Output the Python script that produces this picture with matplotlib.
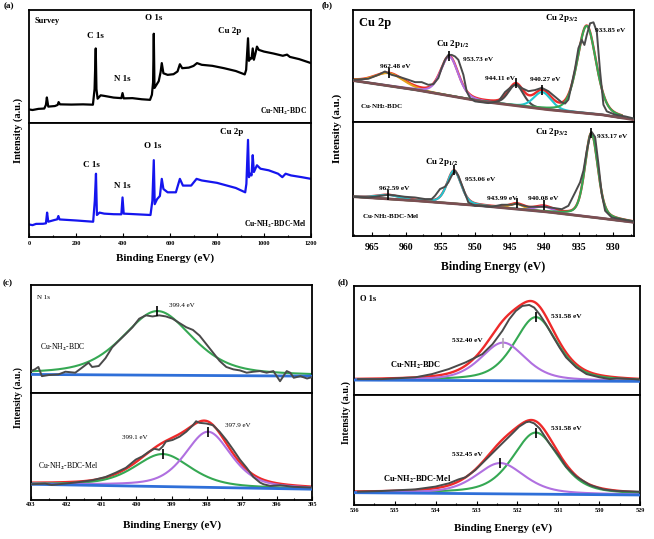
import numpy as np
import matplotlib.pyplot as plt
from matplotlib.ticker import MultipleLocator

plt.rcParams['font.family'] = 'Liberation Serif'
plt.rcParams['font.weight'] = 'bold'
plt.rcParams['mathtext.fontset'] = 'stix'
plt.rcParams['mathtext.default'] = 'bf'

W, H = 654, 539

# ---------------- (a) survey ----------------
survey_be_1 = [0, 15, 40, 65, 72, 76, 82, 110, 122, 126, 132, 180, 230, 272, 279, 284, 287, 292, 305, 320,
               360, 393, 398, 403, 440, 480, 515, 523, 528, 531, 534, 540, 552, 560, 565, 572, 590, 615, 632, 642,
               652, 680, 700, 715, 735, 780, 830, 880, 918, 924, 932, 936, 942, 947, 952, 957, 963, 970, 978, 1000,
               1040, 1080, 1098, 1110, 1150, 1200]
survey_int_1 = [12, 11.5, 12.5, 12.8, 16, 22.6, 14.5, 15, 16, 18.5, 16.5, 16.3, 16.5, 16.2, 30, 66, 30, 21.5, 24.5, 24,
                22.5, 22, 26.5, 21.8, 22, 21, 20.5, 25, 36, 79, 31, 33, 37, 45, 53, 44, 42.6, 43.2, 45.6, 52,
                48.5, 49, 50.5, 53, 51.5, 50.6, 48.5, 46, 43, 47, 75, 55, 57.4, 57, 66, 56, 61, 67.6, 64.7, 63.2,
                61.5, 59.5, 60.5, 58.5, 56.5, 53]
survey_be_2 = [0, 15, 30, 60, 72, 77, 82, 110, 120, 125, 130, 200, 273, 280, 285, 289, 300, 320, 360, 393,
               398, 403, 450, 517, 525, 531, 535, 545, 557, 565, 572, 590, 625, 642, 655, 690, 713, 735, 800, 880,
               920, 925, 932, 936, 942, 947, 952, 957, 970, 985, 1020, 1060, 1078, 1092, 1115, 1160, 1200]
survey_int_2 = [11, 10.4, 11.5, 11.6, 12, 21.4, 13.4, 15, 15.5, 18.4, 15.4, 14.5, 13.4, 31.8, 55.5, 19.3, 21.4, 20.5, 20, 19.9,
                34.7, 20.5, 20, 19.3, 31.8, 67.4, 28.8, 33.2, 36, 51, 42.1, 39.2, 39.2, 51, 45.1, 45.1, 51, 49.6, 47.5, 43,
                39.2, 46.6, 85.2, 52.5, 55.5, 54, 71.8, 57, 62.9, 59.9, 58.5, 55.5, 52.5, 55.5, 54, 52.5, 51]

# ---------------- (b) Cu 2p ----------------
cu_be_1 = [967.66, 965.48, 964.03, 963.07, 962.10, 961.14, 959.69, 958.72, 957.75, 956.79, 956.06, 955.34, 954.86,
           954.37, 953.89, 953.41, 952.92, 952.44, 951.71, 951.23, 950.75, 950.02, 948.09, 946.64, 945.68, 944.71,
           943.99, 943.26, 942.29, 941.33, 940.36, 939.40, 938.43, 937.46, 936.98, 936.50, 935.53, 935.05, 934.57,
           934.18, 933.84, 933.36, 932.87, 932.39, 931.91, 931.43, 930.94, 929.73, 928.29, 926.93]
cu_int_1 = [37.7, 38.6, 42.1, 45.1, 42.1, 40.6, 37.7, 35.6, 35.6, 33.2, 33.8, 39.2, 48.1,
            55.5, 59.9, 59.9, 58.5, 55.5, 42.1, 27.3, 21.4, 18.4, 16.9, 18.4, 26.7, 31.8,
            33.8, 30.3, 27.5, 28.5, 30.5, 27.5, 22.5, 17.5, 16.5, 20, 48.1, 65.9, 73.3,
            68.8, 77.7, 88.1, 89, 80.7, 45.1, 15.4, 9.5, 6.5, 5, 3]
cu_bg_be = [967.7, 958.7, 949.1, 939.4, 931.7, 927.0]
cu_bg_1 = [37, 28.8, 18.4, 11, 6.5, 2]
cu_pk_center_1 = [962.48, 953.73, 944.11, 940.27, 933.85]
cu_pk_height_1 = [11.3, 35, 18.6, 15, 78]
cu_pk_fwhm_1 = [5.0, 3.0, 2.6, 3.0, 3.2]

cu_be_2 = [967.66, 965.48, 963.55, 962.58, 961.62, 960.17, 958.72, 957.27, 956.30, 955.82, 955.10, 954.37, 953.89,
           953.41, 952.92, 952.44, 951.71, 950.99, 950.02, 949.06, 947.61, 946.16, 944.71, 943.99, 943.26, 942.29,
           940.85, 939.88, 938.43, 937.46, 936.50, 935.53, 934.81, 934.32, 933.84, 933.36, 933.12, 932.63, 932.15,
           931.67, 931.18, 930.22, 928.77, 926.93]
cu_int_2 = [34.4, 33.8, 35.3, 36.2, 35.6, 34.4, 33.8, 32.4, 32.4, 35.3, 41.2, 43.2, 47.1,
            52.9, 57.4, 52.9, 41.2, 29.4, 26.5, 26.5, 25.6, 27.4, 27.4, 28.5, 27, 25.6,
            25.6, 25.6, 24.4, 23.5, 26.5, 38.2, 47.1, 57.4, 75, 88.2, 91.2, 86.8, 63.2,
            36.8, 22.1, 16.2, 14.7, 12.6]
cu_bg_2 = [34.5, 31, 26.5, 21, 15.5, 12]
cu_pk_center_2 = [962.59, 953.06, 943.99, 940.08, 933.17]
cu_pk_height_2 = [3.5, 29, 4.5, 4.5, 73.8]
cu_pk_fwhm_2 = [4.0, 2.4, 2.5, 3.0, 2.2]

# ---------------- (c) N 1s ----------------
n_be_1 = [403.0, 402.89, 402.79, 402.69, 402.50, 402.22, 402.02, 401.74, 401.55, 401.36, 401.26, 401.07, 400.88,
          400.69, 400.50, 400.30, 400.11, 399.92, 399.73, 399.54, 399.35, 399.16, 398.97, 398.77, 398.58, 398.39,
          398.20, 398.01, 397.82, 397.63, 397.44, 397.24, 397.05, 396.86, 396.67, 396.48, 396.29, 396.10, 395.91,
          395.72, 395.62, 395.52, 395.33, 395.14, 395.0]
n_int_1 = [20.3, 21.9, 24.1, 15.6, 16.6, 17.2, 19.7, 18.8, 23.4, 28.1, 24.1, 25, 32.2,
           42.2, 48.4, 54.7, 60.9, 68.8, 71.9, 70.9, 71.9, 70.9, 68.8, 64.7, 60.9, 58.4,
           53.1, 45.3, 37.5, 29.7, 24.1, 21.9, 20.9, 18.8, 19.7, 20.3, 18.8, 20.3, 10.9,
           20.3, 18.8, 14.1, 15.6, 13.4, 14.7]
n_bg_be = [403, 395]
n_bg_1 = [17.2, 15.6]
n_pk_center_1 = [399.4]
n_pk_height_1 = [59.4]
n_pk_fwhm_1 = [2.35]

n_be_2 = [403.0, 402.60, 402.41, 402.22, 401.74, 401.26, 400.88, 400.59, 400.30, 400.21, 400.02, 399.83, 399.63,
          399.49, 399.35, 399.25, 399.16, 398.97, 398.77, 398.58, 398.39, 398.30, 398.20, 398.01, 397.82, 397.63,
          397.44, 397.24, 397.05, 396.86, 396.67, 396.48, 396.38, 396.19, 395.91, 395.52, 395.0]
n_int_2 = [14.7, 15.3, 14.1, 14.7, 16.3, 18.4, 21.5, 25.5, 30.1, 32.5, 37.7, 40.8, 45.4,
           47.9, 46.9, 50, 54.6, 56.1, 59.2, 63.8, 69.9, 73.6, 72.1, 71.5, 69.9, 63.8,
           56.1, 46.9, 37.7, 30.1, 21.5, 16.3, 14.7, 13.2, 13.8, 12.3, 11.7]
n_bg_2 = [14.7, 10.1]
n_pk_center_2 = [399.25, 397.96]
n_pk_height_2 = [30.4, 52]
n_pk_fwhm_2 = [1.9, 1.55]

# ---------------- (d) O 1s ----------------
o_be_1 = [535.90, 535.33, 534.50, 534.09, 533.68, 533.27, 532.86, 532.61, 532.37, 532.20, 532.04, 531.88, 531.71,
          531.59, 531.46, 531.30, 531.14, 530.97, 530.81, 530.56, 530.31, 529.99, 529.74, 529.57, 529.16, 529.0]
o_int_1 = [14.6, 14.6, 16.2, 19.2, 23.8, 29.9, 37.5, 46.6, 58.8, 69.5, 77.1, 81.7, 82.6,
           80.2, 74.1, 64.9, 54.3, 43.6, 34.5, 25.3, 19.2, 16.2, 14.6, 15.2, 14.6, 14.0]
o_bg_be = [536, 529]
o_bg_1 = [13.7, 12.5]
o_pk_center_1 = [531.55, 532.35]
o_pk_height_1 = [58.5, 35]
o_pk_fwhm_1 = [1.25, 1.3]

o_be_2 = [535.90, 535.33, 534.50, 534.01, 533.68, 533.44, 533.27, 533.03, 532.70, 532.37, 532.12, 531.96, 531.79,
          531.71, 531.59, 531.46, 531.22, 530.97, 530.81, 530.56, 530.23, 529.90, 529.57, 529.0]
o_int_2 = [12.1, 12.7, 14.2, 16.7, 19.7, 23.3, 25.2, 31.8, 43.9, 56.1, 65.2, 71.2, 75.2,
           75.8, 74.2, 69.7, 56.1, 43.9, 34.8, 25.8, 18.2, 14.2, 12.7, 12.1]
o_bg_2 = [11.2, 9.1]
o_pk_center_2 = [531.55, 532.42]
o_pk_height_2 = [56, 28]
o_pk_fwhm_2 = [1.35, 1.4]

RAW = '#4a4a4a'
RED = '#ee2a2a'
GREEN = '#35a853'
PURPLE = '#b070e0'
CYAN = '#22c5cf'
ORANGE = '#e3a21c'
BROWN = '#7b4f52'
BLUE = '#2f6fd8'


def pv(x, c, h, w, eta):
    # pseudo-Voigt line shape of a fitted component
    g = np.exp(-4 * np.log(2) * ((x - c) / w) ** 2)
    lor = 1 / (1 + 4 * ((x - c) / w) ** 2)
    return h * ((1 - eta) * g + eta * lor)


def box(l, t, r, b):
    return [l / W, 1 - b / H, (r - l) / W, (b - t) / H]


def style(ax, xlim, major, minor, tsize, pad, bottom):
    ax.set_xlim(*xlim)
    ax.set_ylim(0, 100)
    ax.set_yticks([])
    for s in ax.spines.values():
        s.set_linewidth(1.3)
    ax.xaxis.set_major_locator(MultipleLocator(major))
    ax.xaxis.set_minor_locator(MultipleLocator(minor))
    ax.tick_params(axis='x', which='both', direction='in', labelsize=tsize, pad=pad, width=0.8)
    ax.tick_params(axis='x', which='major', length=3)
    ax.tick_params(axis='x', which='minor', length=1.5)
    if not bottom:
        ax.tick_params(axis='x', which='both', bottom=False, labelbottom=False)


def fit_panel(ax, be, inten, bg_be, bg, centers, heights, fwhms, colors, xr, eta, bg_color, envelope=True):
    x = np.linspace(xr[0], xr[1], 800)
    base = np.interp(x, bg_be[::-1], bg[::-1])
    comps = [pv(x, c, h, w, eta) for c, h, w in zip(centers, heights, fwhms)]
    env = base + np.sum(comps, axis=0)
    ax.plot(be, inten, color=RAW, lw=1.4, zorder=3)
    if envelope:
        ax.plot(x, env, color=RED, lw=1.7, zorder=2)
    for comp, col in zip(comps, colors):
        ax.plot(x, base + comp, color=col, lw=1.5, zorder=2.5)
    ax.plot(bg_be, bg, color=bg_color, lw=2.0, zorder=2.6)
    return x, env


def mark(ax, x, env, centers, color='black'):
    for c in centers:
        ax.plot([c], [np.interp(c, x[::-1], env[::-1])], marker='|', ms=7, mew=1.2, color=color, zorder=5)


fig = plt.figure(figsize=(W / 100, H / 100), dpi=100)

# ---- (a) ----
a1 = fig.add_axes(box(29, 10, 311, 123))
a2 = fig.add_axes(box(29, 123, 311, 237))
a1.plot(survey_be_1, survey_int_1, color='black', lw=1.6)
a2.plot(survey_be_2, survey_int_2, color='#1515ee', lw=1.6)
for ax, bottom in ((a1, False), (a2, True)):
    style(ax, (0, 1200), 200, 100, 4.5, 3, bottom)
a1.text(0.02, 0.9, 'Survey', transform=a1.transAxes, fontsize=6, va='center')
a1.text(283, 75, 'C 1s', fontsize=6.5, ha='center')
a1.text(398, 37, 'N 1s', fontsize=6.5, ha='center')
a1.text(530, 91, 'O 1s', fontsize=6.5, ha='center')
a1.text(855, 80, 'Cu 2p', fontsize=6.5, ha='center')
a1.text(0.985, 0.1, r'Cu-NH$_2$-BDC', transform=a1.transAxes, fontsize=5.5, ha='right', va='center')
a2.text(267, 61, 'C 1s', fontsize=6.5, ha='center')
a2.text(397, 43, 'N 1s', fontsize=6.5, ha='center')
a2.text(526, 78, 'O 1s', fontsize=6.5, ha='center')
a2.text(862, 90, 'Cu 2p', fontsize=6.5, ha='center')
a2.text(0.985, 0.11, r'Cu-NH$_2$-BDC-Mel', transform=a2.transAxes, fontsize=5.5, ha='right', va='center')

# ---- (b) ----
b1 = fig.add_axes(box(353, 10, 634, 122))
b2 = fig.add_axes(box(353, 122, 634, 236))
x, env = fit_panel(b1, cu_be_1, cu_int_1, cu_bg_be, cu_bg_1, cu_pk_center_1, cu_pk_height_1, cu_pk_fwhm_1,
                   [ORANGE, PURPLE, RAW, CYAN, GREEN], (967.7, 928.8), 0.3, BROWN)
mark(b1, x, env, cu_pk_center_1[:4])
x, env = fit_panel(b2, cu_be_2, cu_int_2, cu_bg_be, cu_bg_2, cu_pk_center_2, cu_pk_height_2, cu_pk_fwhm_2,
                   [CYAN, CYAN, ORANGE, PURPLE, GREEN], (967.7, 927.0), 0.35, BROWN)
mark(b2, x, env, cu_pk_center_2)
for ax, bottom in ((b1, False), (b2, True)):
    style(ax, (967.7, 927.0), 5, 2.5, 7, 5, bottom)
b1.text(0.02, 0.88, 'Cu 2p', transform=b1.transAxes, fontsize=9, va='center')
b1.text(937.5, 92.6, r'Cu 2p$_{3/2}$', fontsize=6.5, ha='center', va='center')
b1.text(932.6, 82, '933.85 eV', fontsize=5.2, va='center')
b1.text(953.2, 70, r'Cu 2p$_{1/2}$', fontsize=6.5, ha='center', va='center')
b1.text(951.7, 55.5, '953.73 eV', fontsize=5.2, va='center')
b1.text(963.8, 49.5, '962.48 eV', fontsize=5.2, va='center')
b1.text(948.6, 39, '944.11 eV', fontsize=5.2, va='center')
b1.text(942.0, 37.7, '940.27 eV', fontsize=5.2, va='center')
b1.text(966.7, 14, r'Cu-NH$_2$-BDC', fontsize=5, va='center')
b2.text(938.9, 91, r'Cu 2p$_{3/2}$', fontsize=6.5, ha='center', va='center')
b2.text(932.4, 87.4, '933.17 eV', fontsize=5.2, va='center')
b2.text(954.9, 64.7, r'Cu 2p$_{1/2}$', fontsize=6.5, ha='center', va='center')
b2.text(951.5, 50, '953.06 eV', fontsize=5.2, va='center')
b2.text(964.0, 41.8, '962.59 eV', fontsize=5.2, va='center')
b2.text(948.3, 33, '943.99 eV', fontsize=5.2, va='center')
b2.text(942.3, 33, '940.08 eV', fontsize=5.2, va='center')
b2.text(966.4, 16.8, r'Cu-NH$_2$-BDC-Mel', fontsize=5, va='center')

# ---- (c) ----
c1 = fig.add_axes(box(31, 285, 312, 393))
c2 = fig.add_axes(box(31, 393, 312, 500))
x, env = fit_panel(c1, n_be_1, n_int_1, n_bg_be, n_bg_1, n_pk_center_1, n_pk_height_1, n_pk_fwhm_1,
                   [GREEN], (403, 395), 0.5, BLUE, envelope=False)
mark(c1, x, env, n_pk_center_1)
x, env = fit_panel(c2, n_be_2, n_int_2, n_bg_be, n_bg_2, n_pk_center_2, n_pk_height_2, n_pk_fwhm_2,
                   [GREEN, PURPLE], (403, 395), 0.5, BLUE)
for cc, hh in zip(n_pk_center_2, n_pk_height_2):
    c2.plot([cc], [np.interp(cc, n_bg_be[::-1], n_bg_2[::-1]) + hh], marker='|', ms=7, mew=1.2,
            color='black', zorder=5)
for ax, bottom in ((c1, False), (c2, True)):
    style(ax, (403, 395), 1, 0.5, 4.5, 1.5, bottom)
c1.text(0.02, 0.88, 'N 1s', transform=c1.transAxes, fontsize=5, fontweight='normal', va='center')
c1.text(399.06, 81, '399.4 eV', fontsize=5, fontweight='normal', va='center')
c1.text(402.74, 42.2, r'Cu-NH$_2$-BDC', fontsize=5.5, fontweight='normal', va='center')
c2.text(400.4, 58.3, '399.1 eV', fontsize=5, fontweight='normal', va='center')
c2.text(397.48, 70, '397.9 eV', fontsize=5, fontweight='normal', va='center')
c2.text(402.79, 31.6, r'Cu-NH$_2$-BDC-Mel', fontsize=5.5, fontweight='normal', va='center')

# ---- (d) ----
d1 = fig.add_axes(box(354, 286, 640, 395))
d2 = fig.add_axes(box(354, 395, 640, 505))
fit_panel(d1, o_be_1, o_int_1, o_bg_be, o_bg_1, o_pk_center_1, o_pk_height_1, o_pk_fwhm_1,
          [GREEN, PURPLE], (536, 529), 0.5, BLUE)
mark_colors_d1 = ['black', '#b0a4b4']
for cc, hh, col in zip(o_pk_center_1, o_pk_height_1, mark_colors_d1):
    d1.plot([cc], [np.interp(cc, o_bg_be[::-1], o_bg_1[::-1]) + hh], marker='|', ms=7, mew=1.2, color=col, zorder=5)
fit_panel(d2, o_be_2, o_int_2, o_bg_be, o_bg_2, o_pk_center_2, o_pk_height_2, o_pk_fwhm_2,
          [GREEN, PURPLE], (536, 529), 0.5, BLUE)
for cc, hh in zip(o_pk_center_2, o_pk_height_2):
    d2.plot([cc], [np.interp(cc, o_bg_be[::-1], o_bg_2[::-1]) + hh], marker='|', ms=7, mew=1.2,
            color='black', zorder=5)
for ax, bottom in ((d1, False), (d2, True)):
    style(ax, (536, 529), 1, 0.5, 4.5, 2.5, bottom)
d1.text(0.02, 0.88, 'O 1s', transform=d1.transAxes, fontsize=6, va='center')
d1.text(531.18, 71.6, '531.58 eV', fontsize=5.3, va='center')
d1.text(533.6, 50.3, '532.40 eV', fontsize=5.3, va='center')
d1.text(535.12, 26.8, r'Cu-NH$_2$-BDC', fontsize=6, va='center')
d2.text(531.18, 69.7, '531.58 eV', fontsize=5.3, va='center')
d2.text(533.6, 45.5, '532.45 eV', fontsize=5.3, va='center')
d2.text(535.28, 23.3, r'Cu-NH$_2$-BDC-Mel', fontsize=6, va='center')


# ---- figure-level labels ----
def ftext(x, y, s, **kw):
    fig.text(x / W, 1 - y / H, s, ha='center', va='center', **kw)


ftext(9, 6, '(a)', fontsize=6.5)
ftext(327, 5, '(b)', fontsize=6.5)
ftext(8, 283, '(c)', fontsize=6.5)
ftext(343, 282, '(d)', fontsize=6.5)
ftext(165, 258, 'Binding Energy (eV)', fontsize=8)
ftext(493, 267, 'Binding Energy (eV)', fontsize=8.5)
ftext(172, 525, 'Binding Energy (eV)', fontsize=8)
ftext(503, 528, 'Binding Energy (eV)', fontsize=8)
ftext(18, 130, 'Intensity (a.u.)', fontsize=7.5, rotation=90)
ftext(337, 128, 'Intensity (a.u.)', fontsize=8, rotation=90)
ftext(18, 398, 'Intensity (a.u.)', fontsize=7, rotation=90)
ftext(346, 412, 'Intensity (a.u.)', fontsize=7.2, rotation=90)

fig.savefig('out.png', dpi=100)
